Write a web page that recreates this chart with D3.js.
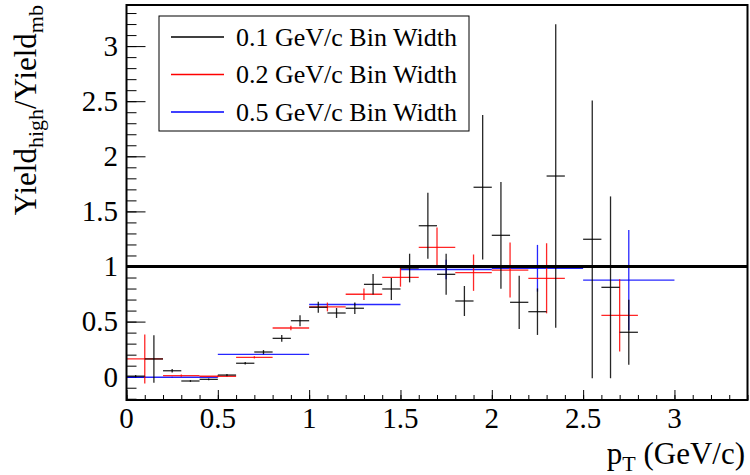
<!DOCTYPE html>
<html>
<head>
<meta charset="utf-8">
<script src="https://cdn.jsdelivr.net/npm/d3@7"></script>
<style>
  html, body { margin: 0; padding: 0; background: #fff; }
  svg { display: block; }
</style>
</head>
<body>
<svg id="chart" width="750" height="475" font-family="'Liberation Serif', 'DejaVu Serif', serif"></svg>
<script>
// ---- data ----
// 0.1 GeV/c bins: pT centre, ratio, error
const bw01Centers = [0.05, 0.15, 0.25, 0.35, 0.45, 0.55, 0.65, 0.75, 0.85, 0.95, 1.05, 1.15, 1.25, 1.35, 1.45, 1.55, 1.65, 1.75, 1.85, 1.95, 2.05, 2.15, 2.25, 2.35, 2.55, 2.65, 2.75];
const bw01Values  = [0.005, 0.161, 0.054, -0.039, -0.024, 0.015, 0.122, 0.224, 0.348, 0.508, 0.630, 0.578, 0.621, 0.838, 0.796, 0.986, 1.370, 0.929, 0.687, 1.719, 1.283, 0.675, 0.590, 1.821, 1.247, 0.811, 0.403];
const bw01Errors  = [0.010, 0.215, 0.015, 0.008, 0.008, 0.010, 0.012, 0.018, 0.030, 0.050, 0.050, 0.045, 0.053, 0.093, 0.100, 0.130, 0.300, 0.186, 0.136, 0.655, 0.484, 0.242, 0.211, 1.377, 1.260, 0.825, 0.295];
const bw01Half = 0.05;

const bw02Centers = [0.1, 0.3, 0.5, 0.7, 0.9, 1.1, 1.3, 1.5, 1.7, 1.9, 2.1, 2.3, 2.7];
const bw02Values  = [0.161, 0.009, 0.004, 0.176, 0.442, 0.633, 0.748, 0.902, 1.174, 0.944, 0.968, 0.893, 0.557];
const bw02Errors  = [0.222, 0.010, 0.008, 0.010, 0.020, 0.040, 0.052, 0.085, 0.180, 0.165, 0.250, 0.318, 0.328];
const bw02Half = 0.1;

const bw05Centers = [0.25, 0.75, 1.25, 1.75, 2.25, 2.75];
const bw05Values  = [-0.005, 0.203, 0.655, 0.973, 0.984, 0.877];
const bw05Errors  = [0.005, 0.005, 0.010, 0.088, 0.212, 0.455];
const bw05Half = 0.25;

const legendLabels = ["0.1 GeV/c Bin Width", "0.2 GeV/c Bin Width", "0.5 GeV/c Bin Width"];
const seriesColors = ["#000000", "#ff0000", "#0000ff"];
const xTickValues = [0, 0.5, 1, 1.5, 2, 2.5, 3];
const yTickValues = [0, 0.5, 1, 1.5, 2, 2.5, 3];
const referenceLevel = 1;

// ---- layout ----
const svg = d3.select("#chart");
const L = 126.5, R = 747.5, T = 5, B = 400;
const x = d3.scaleLinear().domain([0, 3.4]).range([L, L + 3.4 * 182.65]);
const yPx0 = 376.7, yPerUnit = 110.2;
const y = d3.scaleLinear().domain([(yPx0 - B) / yPerUnit, (yPx0 - T) / yPerUnit]).range([B, T]);

// axes (ticks inside)
const xMinor = d3.range(0, 3.41, 0.1).map(v => +v.toFixed(2));
const yMinor = d3.range(-0.2, 3.41, 0.1).map(v => +v.toFixed(2)).filter(v => y(v) <= B && y(v) >= T);

const gx = svg.append("g").attr("transform", `translate(0,${B})`);
gx.call(d3.axisBottom(x).tickValues(xMinor).tickSize(-5).tickFormat(""));
gx.append("g").call(d3.axisBottom(x).tickValues(xTickValues).tickSize(-10).tickFormat(""));
gx.selectAll(".domain").remove();
gx.selectAll("line").attr("stroke", "#000").attr("stroke-width", 1);

const gy = svg.append("g").attr("transform", `translate(${L},0)`);
gy.call(d3.axisLeft(y).tickValues(yMinor).tickSize(-10).tickFormat(""));
gy.append("g").call(d3.axisLeft(y).tickValues(yTickValues).tickSize(-19).tickFormat(""));
gy.selectAll(".domain").remove();
gy.selectAll("line").attr("stroke", "#000").attr("stroke-width", 1);

// tick labels
svg.append("g").selectAll("text").data(xTickValues).join("text")
  .attr("x", d => x(d)).attr("y", 428)
  .attr("text-anchor", "middle").attr("font-size", 29)
  .text(d => d3.format("")(d));
svg.append("g").selectAll("text").data(yTickValues).join("text")
  .attr("x", 118).attr("y", d => y(d)).attr("dy", "0.34em")
  .attr("text-anchor", "end").attr("font-size", 29)
  .text(d => d3.format("")(d));

// titles
const xt = svg.append("text").attr("x", 745).attr("y", 464).attr("text-anchor", "end").attr("font-size", 31);
xt.append("tspan").text("p");
xt.append("tspan").attr("font-size", 22).attr("dy", 7).text("T");
xt.append("tspan").attr("dy", -7).text(" (GeV/c)");

const yt = svg.append("text").attr("transform", "translate(36,5) rotate(-90)")
  .attr("text-anchor", "end").attr("font-size", 31);
yt.append("tspan").text("Yield");
yt.append("tspan").attr("font-size", 22).attr("dy", 7).text("high");
yt.append("tspan").attr("dy", -7).text("/Yield");
yt.append("tspan").attr("font-size", 22).attr("dy", 7).text("mb");

// data series
function series(centers, values, errors, half) {
  return centers.map((c, i) => ({ c, v: values[i], e: errors[i], h: half }));
}
const allSeries = [
  { data: series(bw05Centers, bw05Values, bw05Errors, bw05Half), color: seriesColors[2] },
  { data: series(bw02Centers, bw02Values, bw02Errors, bw02Half), color: seriesColors[1] },
  { data: series(bw01Centers, bw01Values, bw01Errors, bw01Half), color: seriesColors[0] }
];
const plot = svg.append("g");
allSeries.forEach(s => {
  const g = plot.append("g").attr("stroke", s.color).attr("stroke-width", 1.3).attr("stroke-opacity", 0.85);
  g.selectAll("line.h").data(s.data).join("line").attr("class", "h")
    .attr("x1", d => x(d.c - d.h)).attr("x2", d => x(d.c + d.h))
    .attr("y1", d => y(d.v)).attr("y2", d => y(d.v));
  g.selectAll("line.v").data(s.data).join("line").attr("class", "v")
    .attr("x1", d => x(d.c)).attr("x2", d => x(d.c))
    .attr("y1", d => Math.min(B, y(d.v - d.e))).attr("y2", d => Math.max(T, y(d.v + d.e)));
});

// reference line at 1
svg.append("line").attr("x1", L).attr("x2", R)
  .attr("y1", y(referenceLevel)).attr("y2", y(referenceLevel))
  .attr("stroke", "#000").attr("stroke-width", 3);

// frame
svg.append("rect").attr("x", L).attr("y", T).attr("width", R - L).attr("height", B - T)
  .attr("fill", "none").attr("stroke", "#000").attr("stroke-width", 2);

// legend
const lg = svg.append("g");
lg.append("rect").attr("x", 159).attr("y", 16).attr("width", 310).attr("height", 115)
  .attr("fill", "#fff").attr("stroke", "#000").attr("stroke-width", 1);
legendLabels.forEach((lab, i) => {
  const cy = 37 + i * 37.5;
  lg.append("line").attr("x1", 171).attr("x2", 224).attr("y1", cy).attr("y2", cy)
    .attr("stroke", seriesColors[i]).attr("stroke-width", 1.3);
  lg.append("text").attr("x", 236).attr("y", cy).attr("dy", "0.34em")
    .attr("font-size", 26).text(lab);
});
</script>
</body>
</html>
